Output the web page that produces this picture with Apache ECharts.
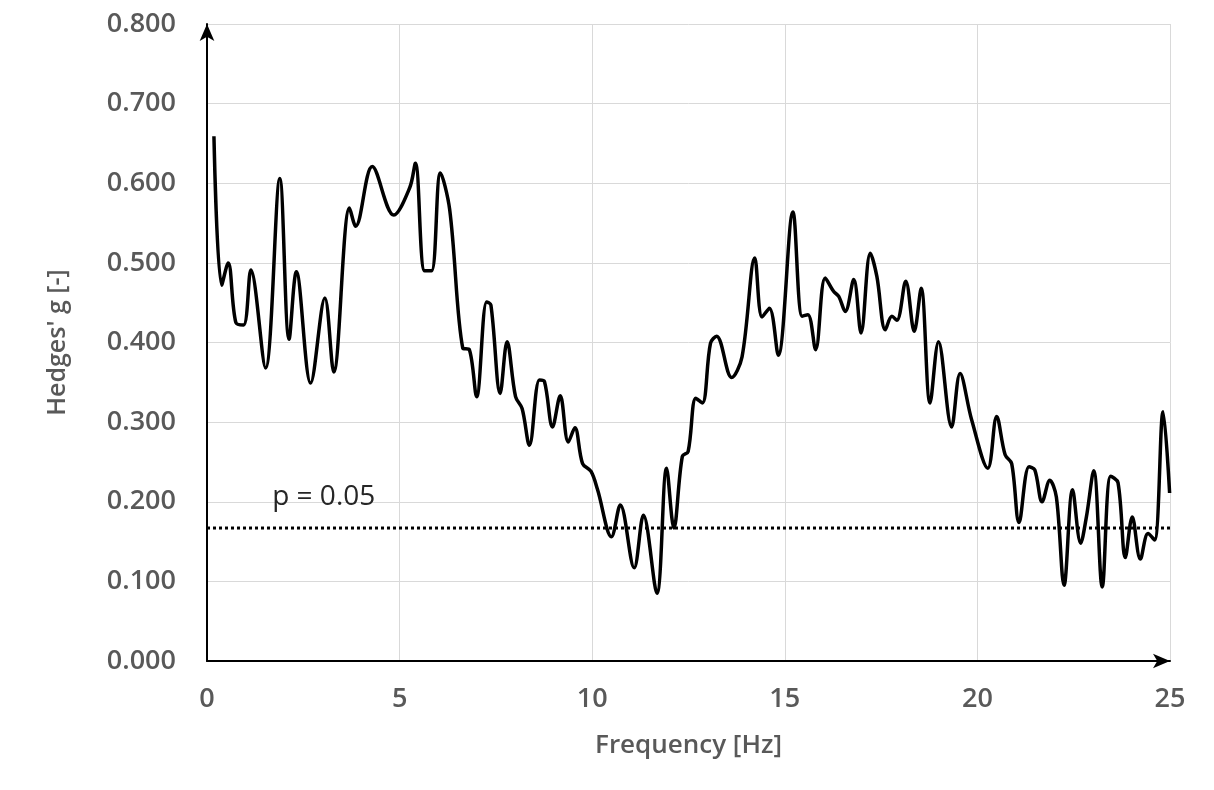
<!DOCTYPE html>
<html>
<head>
<meta charset="utf-8">
<script src="https://cdn.jsdelivr.net/npm/echarts@6/dist/echarts.min.js"></script>
<style>
html,body{margin:0;padding:0;background:#fff;}
#chart{width:1214px;height:790px;}
</style>
</head>
<body>
<div id="chart"></div>
<script>
var freq = [0.18,0.38,0.55,0.75,0.95,1.14,1.52,1.89,2.13,2.32,2.69,3.06,3.29,3.70,3.86,4.29,4.85,5.26,5.41,5.65,5.83,6.06,6.30,6.64,6.81,7.00,7.26,7.37,7.61,7.79,8.01,8.18,8.37,8.63,8.76,8.97,9.17,9.38,9.55,9.75,9.97,10.14,10.50,10.73,11.09,11.33,11.68,11.93,12.12,12.34,12.49,12.69,12.86,13.07,13.23,13.62,13.89,14.22,14.41,14.60,14.83,15.21,15.45,15.60,15.80,16.05,16.27,16.40,16.57,16.79,16.98,17.22,17.39,17.61,17.78,17.91,18.14,18.36,18.54,18.77,18.99,19.33,19.55,19.85,20.27,20.50,20.72,20.89,21.08,21.34,21.49,21.68,21.88,22.05,22.25,22.47,22.68,22.83,23.02,23.24,23.46,23.65,23.84,24.02,24.23,24.43,24.60,24.82,24.99];
var hedges = [0.659,0.472,0.500,0.425,0.422,0.491,0.368,0.606,0.404,0.489,0.349,0.456,0.363,0.569,0.546,0.621,0.560,0.594,0.625,0.490,0.490,0.613,0.567,0.393,0.391,0.332,0.451,0.447,0.336,0.401,0.332,0.317,0.271,0.353,0.351,0.294,0.333,0.275,0.293,0.248,0.238,0.215,0.156,0.196,0.117,0.183,0.085,0.242,0.167,0.257,0.263,0.330,0.324,0.399,0.408,0.356,0.382,0.506,0.432,0.443,0.384,0.564,0.433,0.435,0.391,0.481,0.464,0.458,0.439,0.479,0.412,0.512,0.483,0.416,0.433,0.428,0.477,0.414,0.468,0.324,0.401,0.294,0.361,0.303,0.242,0.307,0.259,0.248,0.174,0.244,0.240,0.200,0.227,0.206,0.095,0.215,0.148,0.181,0.239,0.093,0.232,0.224,0.130,0.181,0.128,0.160,0.152,0.313,0.211];
var pThreshold = 0.167;
var pLabel = 'p = 0.05';
var pLabelFreq = 3.03;
var xTitle = 'Frequency [Hz]';
var yTitle = "Hedges' g [-]";

var font = '"Open Sans", "Liberation Sans", sans-serif';
var lineData = freq.map(function(f,i){return [f, hedges[i]];});

var chart = echarts.init(document.getElementById('chart'), null, {renderer:'canvas'});
chart.setOption({
  animation:false,
  backgroundColor:'#ffffff',
  grid:{left:207,right:44,top:24,bottom:129,containLabel:false},
  xAxis:{
    type:'value',min:0,max:25,interval:5,
    name:xTitle,nameLocation:'middle',nameGap:72,
    nameTextStyle:{fontFamily:font,fontSize:26,fontWeight:600,color:'#595959'},
    axisLine:{show:true,onZero:false,symbol:['none','arrow'],symbolSize:[11,17],lineStyle:{color:'#000',width:2}},
    axisTick:{show:false},
    axisLabel:{margin:25,fontFamily:font,fontSize:27,fontWeight:600,color:'#595959'},
    splitLine:{show:true,lineStyle:{color:'#d9d9d9',width:1}}
  },
  yAxis:{
    type:'value',min:0,max:0.8,interval:0.1,
    name:yTitle,nameLocation:'middle',nameGap:137,
    nameTextStyle:{fontFamily:font,fontSize:25,fontWeight:600,color:'#595959'},
    axisLine:{show:true,symbol:['none','arrow'],symbolSize:[11,17],lineStyle:{color:'#000',width:2}},
    axisTick:{show:false},
    axisLabel:{margin:31,fontFamily:font,fontSize:27,fontWeight:600,color:'#595959',
      formatter:function(v){return v.toFixed(3);}},
    splitLine:{show:true,lineStyle:{color:'#d9d9d9',width:1}}
  },
  series:[
    {
      type:'line',data:lineData,smooth:0.35,showSymbol:false,
      lineStyle:{color:'#000',width:3.5},z:3
    },
    {
      type:'line',data:[[0,pThreshold],[25,pThreshold]],showSymbol:false,
      lineStyle:{color:'#000',width:3,type:[3,3]},z:2
    },
    {
      type:'scatter',data:[[pLabelFreq,pThreshold]],symbolSize:1,
      itemStyle:{color:'rgba(0,0,0,0)',opacity:1},silent:true,
      label:{show:true,formatter:pLabel,position:'top',distance:16,opacity:1,
        fontFamily:font,fontSize:28,color:'#262626'}
    }
  ]
});
</script>
</body>
</html>
